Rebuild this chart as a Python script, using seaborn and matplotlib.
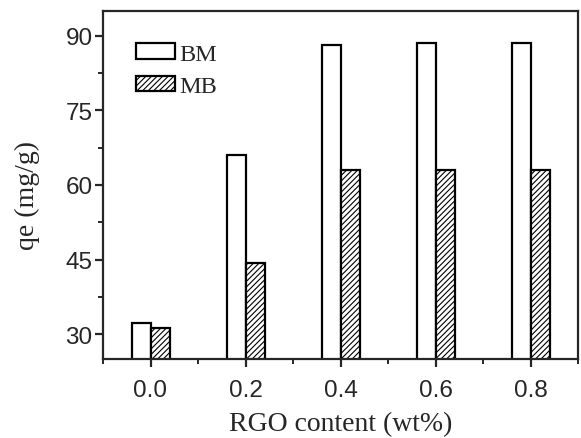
import matplotlib
matplotlib.use("Agg")
import matplotlib.pyplot as plt
from matplotlib.patches import Patch
from matplotlib.ticker import MultipleLocator, FormatStrFormatter
import seaborn as sns
import pandas as pd

rgo_content = [0.0, 0.2, 0.4, 0.6, 0.8]
bm_values = [32.2, 66.1, 88.2, 88.5, 88.5]
mb_values = [31.2, 44.3, 63.1, 63.1, 63.1]
series_names = ["BM", "MB"]

df = pd.DataFrame({
    "rgo": rgo_content * 2,
    "qe": bm_values + mb_values,
    "series": [series_names[0]] * len(rgo_content) + [series_names[1]] * len(rgo_content),
})

sns.set_style("ticks")
plt.rcParams["hatch.linewidth"] = 0.8

fig = plt.figure(figsize=(5.81, 4.39), dpi=100)
ax = fig.add_axes([103 / 581, 1 - 360 / 439, (578 - 103) / 581, (360 - 12) / 439])

sns.barplot(data=df, x="rgo", y="qe", hue="series", native_scale=True,
            width=0.4, gap=0, errorbar=None, palette=["white", "white"],
            edgecolor="black", linewidth=1.6, ax=ax, legend=False)

n = len(rgo_content)
for i, p in enumerate(ax.patches):
    if i >= n:
        p.set_hatch("//////")

ax.set_xlim(-0.1, 0.9)
ax.set_ylim(25, 95)
ax.xaxis.set_major_locator(MultipleLocator(0.2))
ax.xaxis.set_minor_locator(MultipleLocator(0.1))
ax.xaxis.set_major_formatter(FormatStrFormatter("%.1f"))
ax.yaxis.set_major_locator(MultipleLocator(15))
ax.yaxis.set_minor_locator(MultipleLocator(7.5))

for s in ax.spines.values():
    s.set_linewidth(1.6)
    s.set_visible(True)
ax.tick_params(which="major", direction="out", length=5.5, width=1.6, labelsize=17.5,
               top=False, right=False)
ax.tick_params(axis="y", which="major", pad=2)
ax.tick_params(axis="x", which="major", pad=9)
ax.tick_params(which="minor", direction="out", length=3.5, width=1.4, top=False, right=False)
for lbl in ax.get_xticklabels() + ax.get_yticklabels():
    lbl.set_fontfamily("Liberation Sans")

ax.set_xlabel("RGO content (wt%)", fontfamily="Liberation Serif", fontsize=20, labelpad=7)
ax.set_ylabel("qe (mg/g)", fontfamily="Liberation Serif", fontsize=20, labelpad=18, y=0.474)

handles = [Patch(facecolor="white", edgecolor="black", linewidth=1.6, label=series_names[0]),
           Patch(facecolor="white", edgecolor="black", linewidth=1.6, hatch="//////", label=series_names[1])]
ax.legend(handles=handles, loc="upper left", frameon=False,
          prop={"family": "Liberation Serif", "size": 17.5},
          handlelength=1.6, handleheight=0.62, handletextpad=0.2,
          labelspacing=0.45, bbox_to_anchor=(0.049, 0.935), borderaxespad=0)

fig.savefig("out.png", dpi=100)
